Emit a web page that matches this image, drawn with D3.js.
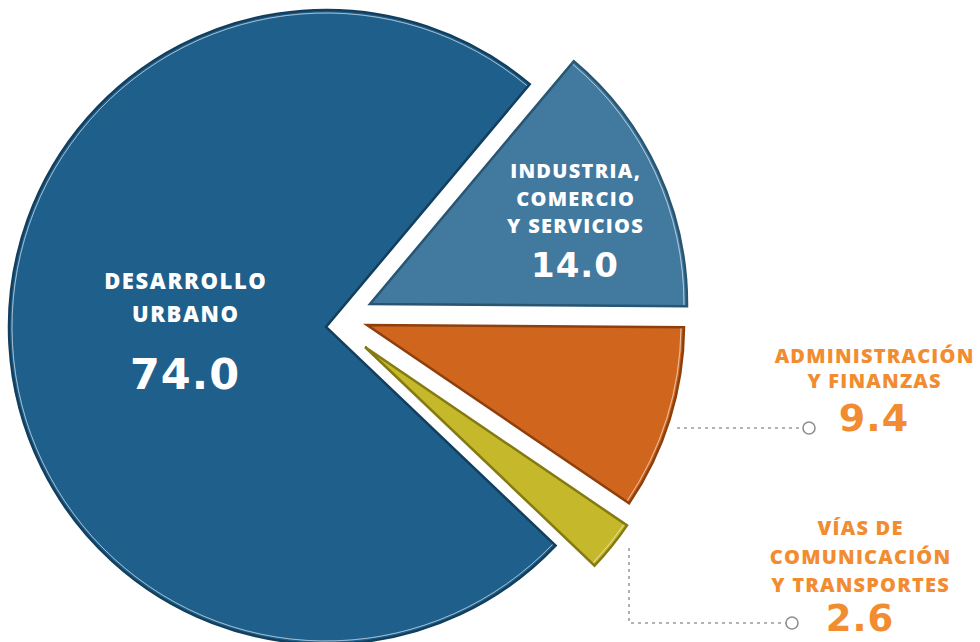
<!DOCTYPE html>
<html>
<head>
<meta charset="utf-8">
<script src="https://cdn.jsdelivr.net/npm/d3@7"></script>
<style>
  body { margin: 0; background: #fff; }
  svg { display: block; font-family: 'Open Sans', Lato, sans-serif; }
  .inlabel { fill: #fff; font-weight: 800; text-anchor: middle; }
  .outlabel { fill: #f28c30; font-weight: 800; text-anchor: middle; }
  .num { font-family: 'DejaVu Sans', 'Open Sans', sans-serif; font-weight: bold; }
</style>
</head>
<body>
<svg></svg>
<script>
let width = 980;
let height = 642;

// data
let sectors = ['DESARROLLO URBANO', 'INDUSTRIA, COMERCIO Y SERVICIOS', 'ADMINISTRACIÓN Y FINANZAS', 'VÍAS DE COMUNICACIÓN Y TRANSPORTES'];
let values = [74.0, 14.0, 9.4, 2.6];
let labelLines = [
    ['DESARROLLO', 'URBANO'],
    ['INDUSTRIA,', 'COMERCIO', 'Y SERVICIOS'],
    ['ADMINISTRACIÓN', 'Y FINANZAS'],
    ['VÍAS DE', 'COMUNICACIÓN', 'Y TRANSPORTES']
];

// styles / layout
let fills = ['#1f5f8b', '#42799f', '#d0661e', '#c5b82b'];
let edges = ['#123f5e', '#275572', '#8e3f0c', '#857a12'];
let explode = [[0, 0], [44, -23], [41, -2], [39, 20]];
let cx = 326, cy = 327, radius = 317;

let svg = d3.select('svg')
    .attr('width', width)
    .attr('height', height)

let pie = d3.pie()
    .sort(null)
    .value(d => d)
    .startAngle(-226.4 * Math.PI / 180)
    .endAngle((360 - 226.4) * Math.PI / 180);

let arcs = pie(values);

let arc = d3.arc().innerRadius(0).outerRadius(radius);

let slices = svg.append('g')
    .attr('transform', 'translate(' + cx + ',' + cy + ')')
    .selectAll('g')
    .data(arcs)
    .enter()
    .append('g')
    .attr('transform', (d, i) => 'translate(' + explode[i][0] + ',' + explode[i][1] + ')');

slices.append('path')
    .attr('d', arc)
    .attr('fill', (d, i) => fills[i])
    .attr('stroke', (d, i) => edges[i])
    .attr('stroke-width', 2.5)
    .attr('stroke-linejoin', 'miter');

slices.append('path')
    .attr('d', d => {
        // highlight just inside the outer rim
        let a0 = d.startAngle + 0.004, a1 = d.endAngle - 0.004;
        return d3.arc()({innerRadius: radius - 3, outerRadius: radius - 3, startAngle: a0, endAngle: a1});
    })
    .attr('fill', 'none')
    .attr('stroke', 'rgba(255,255,255,0.45)')
    .attr('stroke-width', 0.8);

// labels inside the two big slices
let inPos = [
    {x: 185, y: 289, lh: 33, fs: 22, ls: 1.6, num: 389, nfs: 43},
    {x: 575, y: 178, lh: 27.5, fs: 20, ls: 1.3, num: 277, nfs: 34}
];
inPos.forEach((p, i) => {
    let t = svg.append('text').attr('class', 'inlabel')
        .attr('font-size', p.fs)
        .attr('letter-spacing', p.ls);
    labelLines[i].forEach((s, j) => {
        t.append('tspan').attr('x', p.x + p.ls / 2).attr('y', p.y + j * p.lh).text(s);
    });
    svg.append('text')
        .attr('class', 'inlabel num')
        .attr('x', p.x)
        .attr('y', p.num)
        .attr('font-size', p.nfs)
        .attr('letter-spacing', 1)
        .text(values[i].toFixed(1));
});

// outside labels with connectors
let outPos = [
    {i: 2, x: 874, y: 363, lh: 25, fs: 20, ls: 1.2, num: 431, nfs: 38, dot: [809, 428],
        line: [[677, 428], [803, 428]]},
    {i: 3, x: 860, y: 535, lh: 28.5, fs: 20, ls: 1.2, num: 631, nfs: 37, dot: [792, 623],
        line: [[629, 548], [629, 623], [786, 623]]}
];
outPos.forEach(p => {
    svg.append('path')
        .attr('d', d3.line()(p.line))
        .attr('fill', 'none')
        .attr('stroke', '#9b9b9b')
        .attr('stroke-width', 1.6)
        .attr('stroke-dasharray', '3,4');
    svg.append('circle')
        .attr('cx', p.dot[0])
        .attr('cy', p.dot[1])
        .attr('r', 6)
        .attr('fill', '#fff')
        .attr('stroke', '#8f8f8f')
        .attr('stroke-width', 1.6);
    let t = svg.append('text').attr('class', 'outlabel')
        .attr('font-size', p.fs)
        .attr('letter-spacing', p.ls);
    labelLines[p.i].forEach((s, j) => {
        t.append('tspan').attr('x', p.x + p.ls / 2).attr('y', p.y + j * p.lh).text(s);
    });
    svg.append('text')
        .attr('class', 'outlabel num')
        .attr('x', p.x)
        .attr('y', p.num)
        .attr('font-size', p.nfs)
        .attr('letter-spacing', 1)
        .text(values[p.i].toFixed(1));
});
</script>
</body>
</html>
